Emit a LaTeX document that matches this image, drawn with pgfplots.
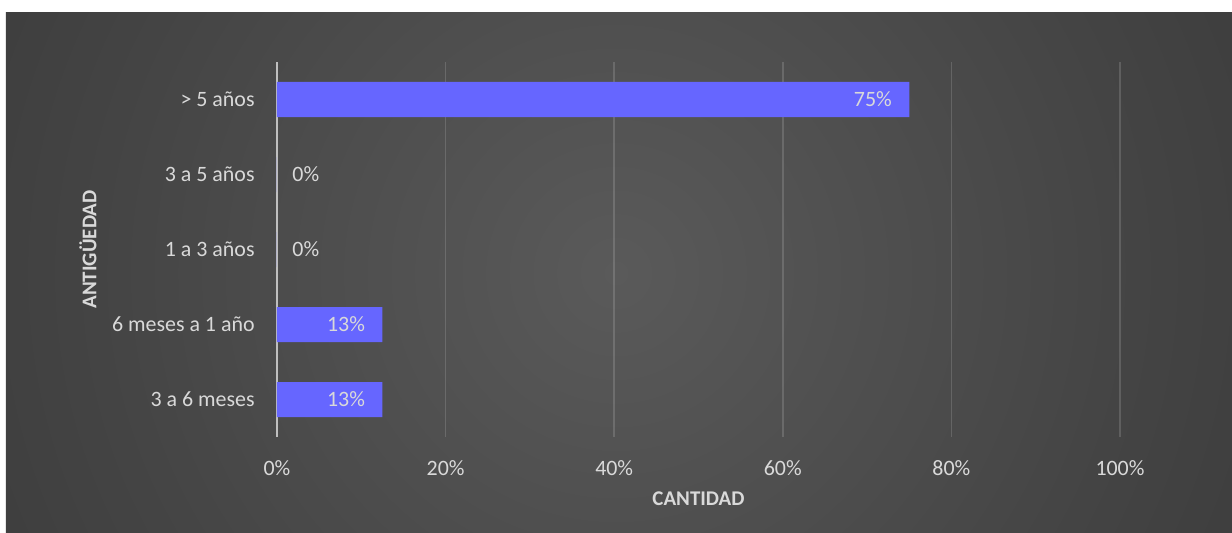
\documentclass[border=0pt]{standalone}
\usepackage{fontspec}
\setmainfont{Carlito}
\usepackage{pgfplots}
\pgfplotsset{compat=1.18}
\usepackage{pgfplotstable}

\definecolor{barblue}{HTML}{6666FF}
\definecolor{txt}{HTML}{D9D9D9}
\definecolor{zeroline}{HTML}{BFBFBF}
\definecolor{bg0}{HTML}{5A5A5A}
\definecolor{bg1}{HTML}{444444}
\definecolor{bg2}{HTML}{2A2A2A}
\definecolor{bg3}{HTML}{262626}
\pgfdeclareradialshading{chartbg}{\pgfpoint{0bp}{0bp}}{color(0bp)=(bg0); color(18.6bp)=(bg1); color(43.6bp)=(bg2); color(50bp)=(bg3)}

% pos: category index from the bottom, val: percent, lab: shown label
\pgfplotstableread{
pos val lab
0 12.5 13
1 12.5 13
4 75 75
}\barras
\pgfplotstableread{
pos val lab
2 0 0
3 0 0
}\ceros

\begin{document}
\begin{tikzpicture}
\useasboundingbox (-138.5bp,-48bp) rectangle (477.5bp,218.5bp);
\fill[white] (-138.5bp,-48bp) rectangle (477.5bp,218.5bp);
\begin{scope}
  \clip (-135.5bp,-48bp) rectangle (477.5bp,212bp);
  \shade[shading=chartbg] (-180.5bp,-268bp) rectangle (519.5bp,432bp);
\end{scope}
\begin{axis}[
    scale only axis,
    width=421.5bp, height=187.5bp,
    xbar, bar width=17.5bp, bar shift=0pt,
    xmin=0, xmax=100, ymin=-0.5, ymax=4.5,
    axis line style={draw=none},
    major tick length=0pt,
    /pgf/number format/assume math mode=true,
    xtick={0,20,...,100},
    xticklabel={\pgfmathprintnumber{\tick}\%},
    ytick={0,1,2,3,4},
    yticklabels={3 a 6 meses, 6 meses a 1 año, 1 a 3 años, 3 a 5 años, > 5 años},
    ticklabel style={color=txt, font=\fontsize{11}{13}\selectfont, inner sep=0pt},
    xticklabel style={yshift=-11.5bp},
    yticklabel style={xshift=-11bp},
    xmajorgrids,
    grid style={white, opacity=0.15, line width=0.75bp},
    extra x ticks={0}, extra x tick labels={},
    extra x tick style={grid style={zeroline, opacity=1, line width=0.75bp}},
    xlabel={CANTIDAD}, ylabel={ANTIGÜEDAD},
    every axis x label/.style={at={(axis description cs:0.5,-0.1653)}, anchor=center,
      color=txt, font=\fontsize{10.5}{12}\selectfont\bfseries},
    every axis y label/.style={at={(axis description cs:-0.2242,0.5)}, rotate=90, anchor=center,
      color=txt, font=\fontsize{10.5}{12}\selectfont\bfseries},
    point meta=explicit symbolic,
    nodes near coords={\pgfplotspointmeta\%},
  ]
  \addplot[fill=barblue, draw=none,
    nodes near coords style={anchor=east, xshift=-8.5bp, inner sep=0pt,
      color=txt, font=\fontsize{11}{13}\selectfont},
  ] table [x=val, y=pos, meta=lab] {\barras};
  \addplot[fill=barblue, draw=none,
    nodes near coords style={anchor=west, xshift=7.5bp, inner sep=0pt,
      color=txt, font=\fontsize{11}{13}\selectfont},
  ] table [x=val, y=pos, meta=lab] {\ceros};
\end{axis}
\end{tikzpicture}
\end{document}
